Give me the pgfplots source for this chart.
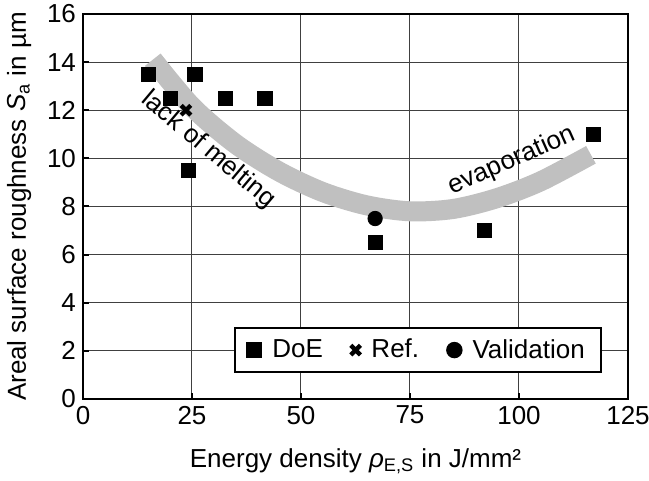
\documentclass[border=0pt]{standalone}
\usepackage{fontspec}
\setmainfont{Liberation Sans}
\usepackage{pgfplots}
\pgfplotsset{compat=1.18}
\definecolor{band}{RGB}{192,192,192}
\begin{document}
\begin{tikzpicture}[font=\fontsize{13}{15}\selectfont]
\begin{axis}[
  scale only axis, width=272.5pt, height=192.5pt,
  xmin=0, xmax=125, ymin=0, ymax=16,
  xtick={0,25,...,125}, ytick={0,2,...,16},
  xtick pos=left, ytick pos=left,
  grid=major, major grid style={line width=0.5pt, black!75},
  axis line style={line width=1pt},
  tick style={line width=1pt, black}, tick align=inside, major tick length=3pt,
  /pgf/number format/assume math mode=true,
  ticklabel style={font=\fontsize{13}{15}\selectfont},
  label style={font=\fontsize{13}{15}\selectfont},
  xlabel={Energy density \textit{ρ}\textsubscript{E,S} in J/mm²},
  ylabel={Areal surface roughness \textit{S}\textsubscript{a} in µm},
  x label style={at={(axis description cs:0.5,-0.161)}, anchor=center},
  y label style={at={(axis description cs:-0.117,0.5)}, anchor=center},
  legend columns=3,
  legend image code/.code={\draw[#1] plot coordinates {(0pt,0pt)};},
  legend style={at={(0.952,0.0675)}, anchor=south east, draw=black, line width=1pt,
    font=\fontsize{13}{15}\selectfont, inner xsep=6pt, inner ysep=3.5pt,
    /tikz/every odd column/.append style={column sep=3.5pt},
    /tikz/every even column/.append style={column sep=12pt}},
  legend cell align=left,
]
\addplot[forget plot, no markers, smooth, line width=10pt, color=band, line cap=butt]
  coordinates {(16,14.1) (25,12.15) (35,10.6) (45,9.45) (55,8.6) (65,8.05) (75,7.8) (85,7.9) (95,8.35) (105,9.05) (116.5,10.15)};
\addplot[only marks, mark=square*, mark size=3.6pt, black] coordinates {
  (15,13.5) (20,12.5) (25.7,13.5) (32.7,12.5) (41.7,12.5) (24.2,9.5) (67,6.5) (92,7) (117,11)};
\addlegendentry{DoE}
\addplot[only marks, mark=x, mark size=3.4pt, black, mark options={line width=2.2pt}] coordinates {(23.6,12)};
\addlegendentry{Ref.}
\addplot[only marks, mark=*, mark size=3.6pt, black] coordinates {(67,7.5)};
\addlegendentry{Validation}
\node[rotate=-40] at (axis cs:28.7,10.35) {lack of melting};
\node[rotate=24] at (axis cs:98.4,9.9) {evaporation};
\end{axis}
\path (current axis.south west) ++(-41.5pt,-41pt) coordinate (bl);
\path (current axis.north east) ++(10.5pt,7pt) coordinate (tr);
\pgfresetboundingbox
\useasboundingbox (bl) rectangle (tr);
\end{tikzpicture}
\end{document}
